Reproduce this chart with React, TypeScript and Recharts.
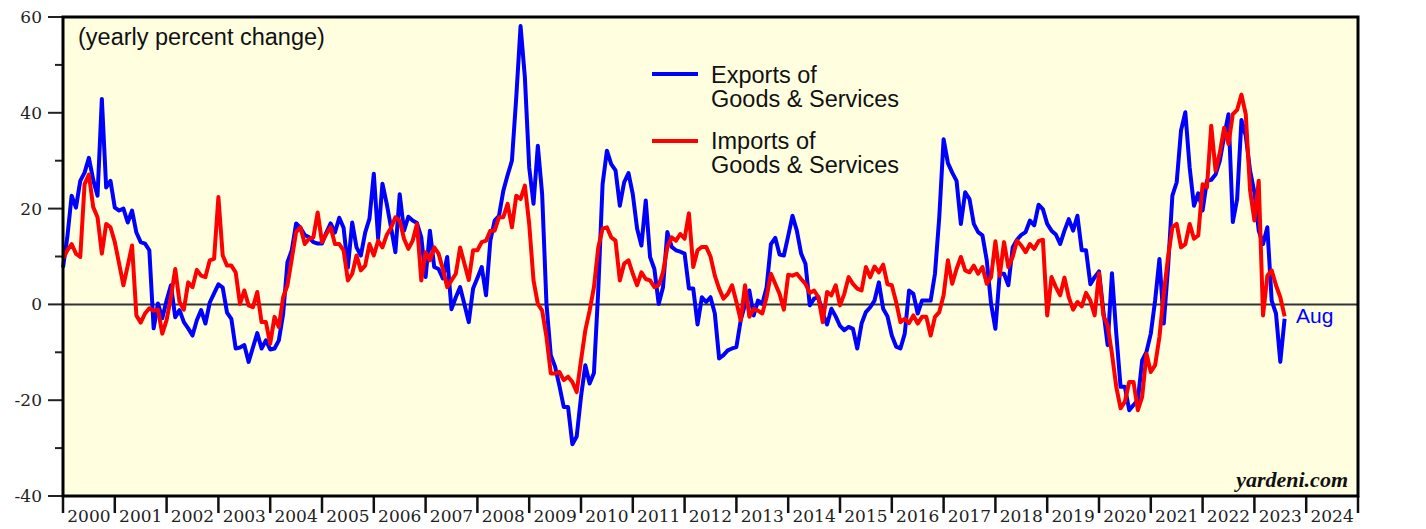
import { LineChart, Line, XAxis, YAxis, CartesianGrid, ReferenceLine } from 'recharts';

// monthly yearly % change, Jan 2000 .. Aug 2023
const startYear = 2000;

const exportsPct = [
  7.7, 14, 22.7, 20.2, 25.8, 27.5, 30.6, 26, 22.7, 42.9, 24.4, 25.8,
  20.2, 19.6, 20, 17.1, 19.6, 15, 13, 12.7, 11.3, -5, 0.2, -2.9,
  0.8, 4, -2.7, -1.2, -3.7, -5, -6.5, -3.3, -1.2, -4, 0.4, 2.3,
  4.2, 3.5, -1.7, -3, -9.2, -9, -8.5, -12, -9, -6, -9.2, -7.5,
  -9.4, -9.2, -7.5, -2, 8.8, 11.3, 16.9, 16, 14.5, 14, 13, 12.7,
  12.7, 15, 16.9, 15, 18.1, 16, 7.7, 17.1, 11.9, 10.2, 15, 17.9,
  27.3, 13.8, 25.2, 21, 16, 10.9, 23, 15.4, 18.3, 17.5, 17, 14,
  5.7, 15.4, 7.8, 7.4, 5.4, 9.9, -1, 1.5, 3.6, 0, -3.7, 3.3,
  5.5, 7.8, 1.9, 13.3, 17.5, 18.5, 23.7, 27, 30, 43.2, 58.1, 47.4,
  28.6, 21, 33.1, 23, 0.1, -10.6, -13, -17, -21.4, -21.4, -29.2, -27.6,
  -19.3, -12.7, -16.5, -14.3, 3, 25.1, 32.1, 29.3, 28, 20.6, 25.5, 27.4,
  23, 15.8, 12.3, 21.7, 9.9, 7.4, 0.1, 3.6, 15.1, 12, 11.3, 11,
  10.6, 3.3, 3.3, -4.2, 1.5, 0.5, 1.5, -1.9, -11.3, -10.6, -9.6, -9.2,
  -8.9, -3.3, 0, 2.9, -2.3, 0.8, 0.1, 3.6, 12.6, 13.9, 10.4, 10.2,
  14.3, 18.5, 15.4, 10.6, 8.5, -0.2, 1.2, 1.5, -1.9, -4.2, -0.9, -2.5,
  -4.5, -5.4, -4.7, -5.1, -9.2, -4, -1.6, -0.6, 0.8, 4.6, -0.9, -2.5,
  -6.5, -8.8, -9.2, -6.1, 2.9, 2.2, -1.9, 0.8, 0.8, 0.8, 6.4, 18.2,
  34.5, 29.5, 27.5, 25.8, 16.8, 23.4, 22, 16.8, 15.1, 14.4, 9.2, 0.1,
  -5.1, 6.4, 6.4, 4, 11.9, 13.5, 14.5, 15.1, 17.5, 16.5, 20.8, 19.9,
  16.8, 15.4, 14.6, 12.6, 15.4, 17.8, 15.4, 18.5, 11.3, 11.3, 4.2, 5.7,
  6.9, -1.3, -8.5, 6.5, -6.1, -17.2, -17.2, -22.1, -21, -20, -11.7, -9.9,
  -6.1, 0.8, 9.5, -4, 7.8, 22.7, 25.5, 36.3, 40.1, 28.6, 20.6, 23.2,
  19.6, 25.8, 26, 27.1, 30, 35.2, 39.7, 17.2, 22, 38.5, 35.2, 27.9,
  23.4, 15.4, 12.6, 16.1, 0.8, -1.9, -12, -3,
];

const importsPct = [
  9.5, 11.3, 12.6, 10.6, 9.9, 25.1, 27.1, 20.3, 18.2, 10.6, 16.8, 16.1,
  13, 8.5, 4, 8.1, 12.3, -2.3, -3.8, -1.9, -0.8, -1.3, -1.1, -6.1,
  -3.3, 1.5, 7.4, 0.5, -1.1, 4.6, 3.6, 7.2, 6, 5.7, 9.2, 9.5,
  22.4, 10.2, 8.1, 8.1, 6.7, 0.1, 2.9, -0.2, -0.6, 2.6, -3.7, -3.7,
  -8.2, -2.6, -4.7, 1.5, 4, 9.5, 15.1, 16.1, 12.6, 13.7, 14, 19.2,
  13, 14.7, 16.1, 12.6, 12.6, 11.3, 5, 6.4, 10.2, 7.1, 8.1, 12.6,
  10.2, 13.3, 11.9, 14.5, 16, 18.2, 17.5, 13.7, 11.6, 13.3, 16.8, 5,
  10.9, 9.2, 11.9, 10.6, 7.4, 3.6, 5, 6.4, 11.9, 8.5, 5.1, 11.3,
  11.3, 13, 13.3, 15.4, 15.4, 18.2, 18.2, 21, 16.1, 22.7, 22, 24.8,
  16.8, 5, 0.1, -1.3, -6.8, -14.4, -14.4, -14.1, -15.8, -15.1, -16.2, -18.3,
  -11.7, -5.4, -1.3, 3.6, 11.9, 15.8, 16.1, 14, 13.3, 5, 8.5, 9.2,
  6.4, 4, 6.7, 5.3, 5, 3.6, 4, 6.7, 11.9, 14, 13.3, 14.7,
  13.7, 19, 7.8, 11.3, 12, 12, 10, 6, 3.3, 1.2, 2.2, 4,
  0.5, -3.3, 4, -2.6, -0.9, -1.3, -1.9, 1.5, 6.4, 4.3, 2.2, -1.1,
  6.2, 6, 6.4, 5.3, 4.3, 2.4, 2.9, 1.5, -3.7, 2.6, 1.9, 4,
  -0.2, 2.2, 5.7, 4.3, 3.3, 2.9, 7.8, 5.7, 7.9, 6.7, 8.3, 4.2,
  4, 0.5, -3.7, -3, -3.9, -2.3, -4, -2.6, -2.6, -6.5, -2.6, -1.6,
  1.9, 9.2, 4.3, 7.4, 9.9, 7.1, 6.7, 8.1, 6.4, 7.8, 4.3, 5.7,
  13.2, 6, 13, 7.8, 9.9, 13.3, 12.3, 10.9, 12.6, 11.6, 13.2, 13.5,
  -2.3, 5.7, 3.6, 1.9, 5.6, 1.5, -1.1, 0.5, -0.4, 2.4, 0.8, -2.3,
  6.5, -2.3, -4.4, -10.3, -17.2, -21.7, -20.3, -16.2, -16.2, -22.1, -19.3, -10.3,
  -14.1, -12.7, -6.8, 2.2, 9.9, 16.1, 16.8, 11.9, 12.6, 16.8, 13.7, 14.4,
  25.1, 24.4, 37.3, 27.9, 31.7, 36.9, 33.5, 39.7, 40.6, 43.8, 39.7, 23.8,
  17.5, 25.8, -2.3, 6, 7.1, 4, 1.5, -2.5,
];

const yearTicks = Array.from({ length: 26 }, (_, i) => startYear + i);
const yTicks = [-40, -30, -20, -10, 0, 10, 20, 30, 40, 50, 60];
const lastLabel = 'Aug';

const data = exportsPct.map((v, i) => ({
  t: startYear + i / 12,
  exports: v,
  imports: importsPct[i],
}));

const W = 1426;
const H = 529;
const PLOT_LEFT = 63;
const PLOT_RIGHT = 1358;
const PLOT_TOP = 17;
const PLOT_BOTTOM = 496;
const YEAR_W = (PLOT_RIGHT - PLOT_LEFT) / 25;

const serif = '"DejaVu Serif", serif';
const sans = '"Liberation Sans", Arial, sans-serif';

function LeftTick(props: any) {
  const { y, payload } = props;
  const major = payload.value % 20 === 0;
  return (
    <g>
      <line x1={PLOT_LEFT - (major ? 15 : 8)} x2={PLOT_LEFT} y1={y} y2={y} stroke="#222" strokeWidth={2} />
      {major && (
        <text x={42} y={y + 6} textAnchor="end" fontFamily={serif} fontSize={17} fill="#222">
          {payload.value}
        </text>
      )}
    </g>
  );
}

function RightTick(props: any) {
  const { y, payload } = props;
  const major = payload.value % 20 === 0;
  return (
    <g>
      <line x1={PLOT_RIGHT} x2={PLOT_RIGHT + (major ? 17 : 9)} y1={y} y2={y} stroke="#222" strokeWidth={2} />
      {major && (
        <text x={1380} y={y + 6} textAnchor="start" fontFamily={serif} fontSize={17} fill="#222">
          {payload.value}
        </text>
      )}
    </g>
  );
}

function YearTick(props: any) {
  const { x, payload } = props;
  const yr = payload.value;
  return (
    <g>
      <line x1={x} x2={x} y1={PLOT_BOTTOM} y2={PLOT_BOTTOM + 17} stroke="#111" strokeWidth={2.5} />
      {yr < 2025 && (
        <text x={x + YEAR_W / 2} y={522} textAnchor="middle" fontFamily={serif} fontSize={17} fill="#222">
          {yr}
        </text>
      )}
    </g>
  );
}

export default function App() {
  return (
    <div style={{ position: 'absolute', left: 0, top: 0, width: W, height: H, background: '#fff', overflow: 'hidden' }}>
      <LineChart
        width={W}
        height={H}
        data={data}
        margin={{ top: PLOT_TOP, right: 0, left: 0, bottom: 0 }}
      >
        <CartesianGrid horizontal={false} vertical={false} fill="#FFFFE0" />
        <XAxis
          dataKey="t"
          type="number"
          domain={[2000, 2025]}
          ticks={yearTicks}
          interval={0}
          height={H - PLOT_BOTTOM}
          axisLine={false}
          tickLine={false}
          tick={<YearTick />}
        />
        <YAxis
          yAxisId="left"
          orientation="left"
          domain={[-40, 60]}
          ticks={yTicks}
          interval={0}
          width={PLOT_LEFT}
          axisLine={false}
          tickLine={false}
          tick={<LeftTick />}
        />
        <YAxis
          yAxisId="right"
          orientation="right"
          domain={[-40, 60]}
          ticks={yTicks}
          interval={0}
          width={W - PLOT_RIGHT}
          axisLine={false}
          tickLine={false}
          tick={<RightTick />}
        />
        <ReferenceLine yAxisId="left" y={0} stroke="#333" strokeWidth={2} />
        <Line
          yAxisId="left"
          type="linear"
          dataKey="exports"
          stroke="#0000FF"
          strokeWidth={4}
          dot={false}
          strokeLinejoin="round"
          isAnimationActive={false}
        />
        <Line
          yAxisId="left"
          type="linear"
          dataKey="imports"
          stroke="#FF0000"
          strokeWidth={4}
          dot={false}
          strokeLinejoin="round"
          isAnimationActive={false}
        />
      </LineChart>

      {/* frame, notes and legend drawn on top */}
      <svg width={W} height={H} style={{ position: 'absolute', left: 0, top: 0, pointerEvents: 'none' }}>
        <rect
          x={PLOT_LEFT}
          y={PLOT_TOP}
          width={PLOT_RIGHT - PLOT_LEFT}
          height={PLOT_BOTTOM - PLOT_TOP}
          fill="none"
          stroke="#000"
          strokeWidth={3}
        />
        <text x={78} y={45} fontFamily={sans} fontSize={23.5} fill="#111">(yearly percent change)</text>

        <line x1={652} x2={698} y1={74} y2={74} stroke="#0000FF" strokeWidth={4} />
        <text x={711} y={83} fontFamily={sans} fontSize={23.5} fill="#111">Exports of</text>
        <text x={711} y={107} fontFamily={sans} fontSize={23.5} fill="#111">Goods &amp; Services</text>

        <line x1={652} x2={698} y1={141} y2={141} stroke="#FF0000" strokeWidth={4} />
        <text x={711} y={149} fontFamily={sans} fontSize={23.5} fill="#111">Imports of</text>
        <text x={711} y={173} fontFamily={sans} fontSize={23.5} fill="#111">Goods &amp; Services</text>

        <text x={1296} y={323} fontFamily={sans} fontSize={21} fill="#0000FF">{lastLabel}</text>
        <text
          x={1348}
          y={487}
          textAnchor="end"
          fontFamily='"Liberation Serif", serif'
          fontStyle="italic"
          fontWeight="bold"
          fontSize={22}
          fill="#111"
        >
          yardeni.com
        </text>
      </svg>
    </div>
  );
}
